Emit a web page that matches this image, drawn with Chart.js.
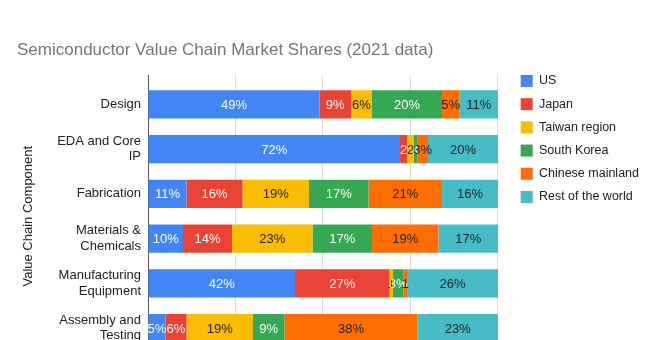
<!DOCTYPE html>
<html>
<head>
<meta charset="utf-8">
<script src="https://cdn.jsdelivr.net/npm/chart.js@4.4.0/dist/chart.umd.min.js"></script>
<style>
  html, body { margin: 0; padding: 0; background: #fff; overflow: hidden; }
  #wrap { width: 661px; height: 383px; position: relative; }
</style>
</head>
<body>
<div id="wrap"><canvas id="myChart"></canvas></div>
<script>
// categorias (eje y)
const componentes = [
  "Design",
  ["EDA and Core", "IP"],
  "Fabrication",
  ["Materials &", "Chemicals"],
  ["Manufacturing", "Equipment"],
  ["Assembly and", "Testing"],
];
const regiones = ["US", "Japan", "Taiwan region", "South Korea", "Chinese mainland", "Rest of the world"];

// cuotas de mercado (%) por region
const us = [49, 72, 11, 10, 42, 5];
const japan = [9, 2, 16, 14, 27, 6];
const taiwan = [6, 2, 19, 23, 1, 19];
const southKorea = [20, 1, 17, 17, 3, 9];
const chineseMainland = [5, 3, 21, 19, 1, 38];
const restOfWorld = [11, 20, 16, 17, 26, 23];

// ticks del eje x
const ticksX = [0, 25, 50, 75, 100];

const series = [us, japan, taiwan, southKorea, chineseMainland, restOfWorld];
const colores = ["#4285F4", "#EA4335", "#FBBC04", "#34A853", "#FF6D01", "#46BDC6"];
const coloresTexto = ["#ffffff", "#ffffff", "#222222", "#ffffff", "#222222", "#222222"];

Chart.defaults.font.family = '"Liberation Sans", Arial, sans-serif';
Chart.defaults.color = "#222222";

/////////////////etiquetas dentro de las barras///////////////////////
const etiquetas = {
  id: "etiquetas",
  afterDatasetsDraw(chart) {
    const { ctx, chartArea } = chart;
    ctx.save();
    ctx.beginPath();
    ctx.rect(chartArea.left, chartArea.top, chartArea.right - chartArea.left, chartArea.bottom - chartArea.top);
    ctx.clip();
    ctx.font = '13px "Liberation Sans", Arial, sans-serif';
    ctx.textAlign = "center";
    ctx.textBaseline = "middle";
    chart.data.datasets.forEach((ds, i) => {
      const meta = chart.getDatasetMeta(i);
      meta.data.forEach((bar, j) => {
        const valor = ds.data[j];
        const ancho = Math.abs(bar.x - bar.base);
        let texto = valor + "%";
        if (ancho < 9) {
          texto = String(valor);
        }
        ctx.fillStyle = coloresTexto[i];
        ctx.fillText(texto, (bar.x + bar.base) / 2, bar.y + 1);
      });
    });
    ctx.restore();
  },
};

var ctx = document.getElementById("myChart").getContext("2d");
var myChart = new Chart(ctx, {
  type: "bar",
  data: {
    labels: componentes,
    datasets: regiones.map((nombre, i) => ({
      label: nombre,
      data: series[i],
      xAxisID: "x",
      yAxisID: "y",
      backgroundColor: colores[i],
      borderWidth: 0,
      categoryPercentage: 1,
      barPercentage: 0.63,
    })),
  },
  options: {
    indexAxis: "y",
    responsive: true,
    maintainAspectRatio: false,
    animation: false,
    layout: {
      padding: { left: 17, right: 12, top: 0, bottom: 3 },
    },
    scales: {
      x: {
        stacked: true,
        min: 0,
        max: 100,
        afterBuildTicks: (scale) => {
          scale.ticks = ticksX.map((v) => ({ value: v }));
        },
        ticks: {
          callback: (v) => v + "%",
          font: { size: 13 },
        },
        grid: {
          color: (c) => (c.index === 0 ? "#555555" : "#dddddd"),
        },
        border: { display: false },
      },
      x2: {
        type: "linear",
        position: "top",
        min: 0,
        max: 100,
        afterBuildTicks: (scale) => {
          scale.ticks = ticksX.map((v) => ({ value: v }));
        },
        ticks: { display: false },
        grid: {
          drawOnChartArea: false,
          tickLength: 7,
          color: (c) => (c.index === 0 ? "#555555" : "#dddddd"),
        },
        border: { display: false },
      },
      // hueco entre el grafico y la leyenda
      hueco: {
        type: "linear",
        position: "right",
        min: 0,
        max: 1,
        ticks: { display: false },
        grid: { display: false, drawTicks: false },
        border: { display: false },
        afterFit: (scale) => {
          scale.width = 12;
        },
      },
      y: {
        stacked: true,
        afterFit: (scale) => {
          scale.width = 131;
        },
        ticks: {
          font: { size: 13 },
          color: "#222222",
          padding: 7,
        },
        grid: { display: false, drawTicks: false },
        border: { display: true, color: "#555555" },
        title: {
          display: true,
          text: "Value Chain Component",
          font: { size: 13 },
          color: "#222222",
        },
      },
    },
    plugins: {
      title: {
        display: true,
        text: "Semiconductor Value Chain Market Shares (2021 data)",
        align: "start",
        color: "#757575",
        font: { size: 17, weight: "normal" },
        padding: { top: 40, bottom: 14.6 },
      },
      legend: {
        position: "right",
        align: "start",
        maxWidth: 160,
        title: {
          display: true,
          text: " ",
          font: { size: 1 },
          padding: { top: 62.8, bottom: 0 },
        },
        labels: {
          boxWidth: 12,
          boxHeight: 12,
          padding: 10.7,
          color: "#222222",
          font: { size: 12.5 },
        },
      },
      tooltip: { enabled: false },
    },
  },
  plugins: [etiquetas],
});
</script>
</body>
</html>
